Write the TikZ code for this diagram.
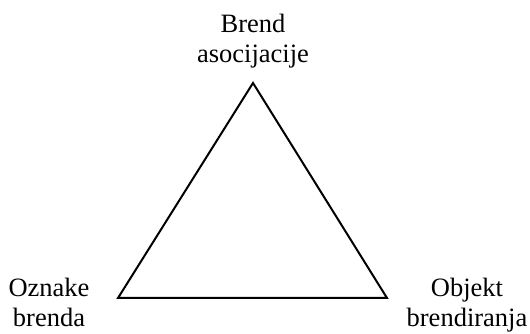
\documentclass[tikz,border=0pt]{standalone}
\usepackage{fontspec}
\setmainfont{Liberation Serif}
\begin{document}
\begin{tikzpicture}[x=1pt,y=1pt,
  lbl/.style={align=center,anchor=base,inner sep=0pt,font=\fontsize{26.5}{30}\selectfont},
  edge/.style={line width=2pt,line join=miter}]
\useasboundingbox (0,0) rectangle (530,334);
\coordinate (t) at (253,251);
\coordinate (l) at (118,36);
\coordinate (r) at (387,36);
\draw[edge] (t) -- (l) -- (r) -- cycle;
\node[lbl] (brend) at (253,271) {Brend\\asocijacije};
\node[lbl] (oznake) at (49,7) {Oznake\\brenda};
\node[lbl] (objekt) at (467,7) {Objekt\\brendiranja};
\end{tikzpicture}
\end{document}
